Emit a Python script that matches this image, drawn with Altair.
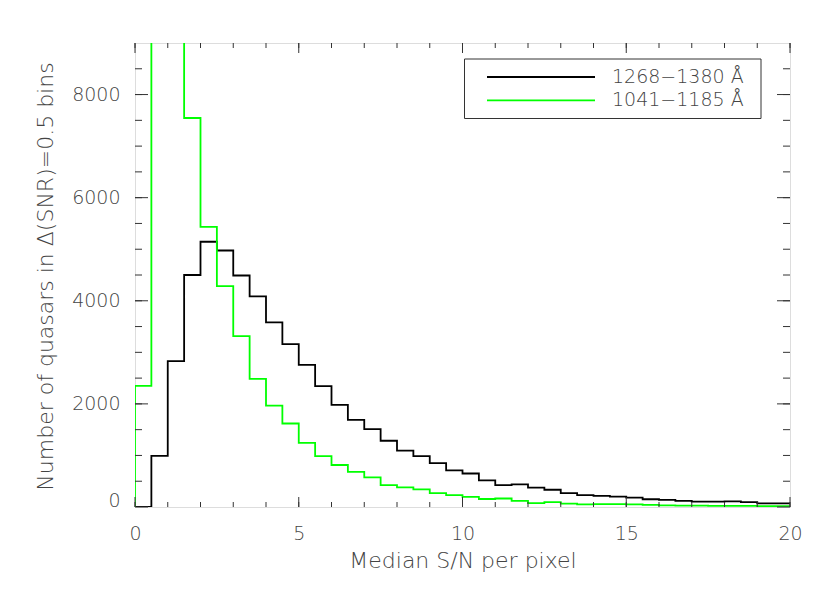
import altair as alt
import numpy as np
import pandas as pd

# ---- data ----
bin_left = np.arange(0.0, 20.0, 0.5)  # 0.5-wide S/N bins, left edges

counts_1268_1380 = [0, 990, 2830, 4500, 5145, 4975, 4490, 4085, 3580, 3160,
                    2755, 2345, 1980, 1690, 1510, 1285, 1095, 985, 850, 710,
                    650, 515, 425, 440, 375, 335, 270, 230, 215, 200,
                    180, 150, 140, 120, 105, 105, 110, 95, 70, 70]

counts_1041_1185 = [2350, 14000, 11500, 7545, 5435, 4285, 3315, 2485, 1965, 1620,
                    1245, 985, 815, 680, 575, 425, 380, 340, 270, 230,
                    195, 155, 165, 120, 75, 95, 65, 50, 55, 55,
                    50, 40, 30, 25, 25, 22, 20, 20, 18, 18]

series_names = ["1268\u22121380 \u00c5", "1041\u22121185 \u00c5"]
series_colors = ["#000000", "#00ff00"]

x_major = [0, 5, 10, 15, 20]
x_minor = list(range(0, 21))
y_major = [0, 2000, 4000, 6000, 8000]
y_minor = list(range(500, 9000, 500))

x_title = "Median S/N per pixel"
y_title = "Number of quasars in \u0394(SNR)=0.5 bins"

# ---- build tables ----
rows = []
for name, counts in zip(series_names, [counts_1268_1380, counts_1041_1185]):
    xs = [0.0] + list(bin_left) + [20.0]
    ys = [0] + list(counts) + [counts[-1]]
    for i, (a, b) in enumerate(zip(xs, ys)):
        rows.append({"sn": a, "n": b, "series": name, "i": i})
hist = pd.DataFrame(rows)

W, H = 655, 464
TXT = "#444444"
FRAME = "#333333"
FONT = "DejaVu Sans"
FW = 200

xscale = alt.Scale(domain=[0, 20], nice=False, zero=False)
yscale = alt.Scale(domain=[0, 9000], nice=False, zero=False)

x_axis = alt.Axis(values=x_major, format="d", grid=False, domain=False, ticks=False,
                  tickSize=0, labelFontSize=19, labelPadding=17, labelColor=TXT,
                  labelFont=FONT, labelFontWeight=FW, labelFlush=False, title=x_title,
                  titleFont=FONT, titleFontSize=22, titleFontWeight=FW, titleColor=TXT,
                  titleX=W / 2, titleY=60, titleBaseline="alphabetic", titleAlign="center")
y_axis = alt.Axis(values=y_major, format="d", grid=False, domain=False, ticks=False,
                  tickSize=0, labelFontSize=19, labelPadding=15, labelColor=TXT,
                  labelFont=FONT, labelFontWeight=FW, labelFlush=True, labelFlushOffset=3,
                  title=y_title, titleFont=FONT,
                  titleFontSize=22, titleFontWeight=FW, titleColor=TXT,
                  titleX=-83, titleY=233, titleBaseline="alphabetic", titleAlign="center",
                  titleAngle=270)

lines = alt.Chart(hist).mark_line(interpolate="step-after", strokeWidth=1.8, clip=True).encode(
    x=alt.X("sn:Q", scale=xscale, axis=x_axis),
    y=alt.Y("n:Q", scale=yscale, axis=y_axis),
    color=alt.Color("series:N", scale=alt.Scale(domain=series_names, range=series_colors), legend=None),
    detail="series:N",
    order=alt.Order("i:Q"),
)
black_line = lines.transform_filter(alt.datum.series == series_names[0])
green_line = lines.transform_filter(alt.datum.series == series_names[1])

def xticks(vals, length, top=False):
    df = pd.DataFrame({"sn": vals})
    if top:
        yy, yy2 = 0, length
    else:
        yy, yy2 = H, H - length
    return alt.Chart(df).mark_rule(color=FRAME, strokeWidth=1).encode(
        x=alt.X("sn:Q", scale=xscale, axis=x_axis), y=alt.value(yy), y2=alt.value(yy2))

def yticks(vals, length, right=False):
    df = pd.DataFrame({"n": vals})
    if right:
        xx, xx2 = W - length, W
    else:
        xx, xx2 = 0, length
    return alt.Chart(df).mark_rule(color=FRAME, strokeWidth=1).encode(
        y=alt.Y("n:Q", scale=yscale, axis=y_axis), x=alt.value(xx), x2=alt.value(xx2))

ticks = [
    xticks(x_minor, 5), xticks(x_major, 10),
    xticks(x_minor, 5, top=True), xticks(x_major, 10, top=True),
    yticks(y_minor, 7), yticks(y_major, 13),
    yticks(y_minor, 7, right=True), yticks(y_major, 13, right=True),
]

# ---- legend box ----
one = pd.DataFrame({"k": [0]})
leg_box = alt.Chart(one).mark_rect(filled=False, stroke=FRAME, strokeWidth=1).encode(
    x=alt.value(329.5), x2=alt.value(626), y=alt.value(16), y2=alt.value(75.5))
leg_items = []
for j, (name, col) in enumerate(zip(series_names, series_colors)):
    ly = 34 + j * 23.3
    leg_items.append(alt.Chart(one).mark_rule(color=col, strokeWidth=1.8).encode(
        x=alt.value(352), x2=alt.value(460), y=alt.value(ly)))
    leg_items.append(alt.Chart(pd.DataFrame({"label": [name]})).mark_text(
        align="left", baseline="alphabetic", fontSize=19, font=FONT, fontWeight=FW,
        color=TXT).encode(
        x=alt.value(477), y=alt.value(ly + 5.8), text="label:N"))

chart = alt.layer(black_line, green_line, *ticks, leg_box, *leg_items).properties(
    width=W, height=H,
    autosize=alt.AutoSizeParams(type="none"),
    padding={"left": 127, "top": 35, "right": 30, "bottom": 70},
).configure_view(stroke=FRAME, strokeWidth=1).configure(background="white")

chart.save("out.html", embed_options={"renderer": "svg", "actions": False})
